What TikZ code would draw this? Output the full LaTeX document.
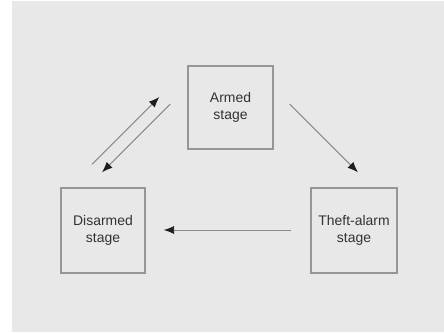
\documentclass[tikz,border=0pt]{standalone}
\usepackage{fontspec}
\setmainfont{Liberation Sans}
\usetikzlibrary{arrows,arrows.meta}
\usetikzlibrary{calc}
\definecolor{hintergrund}{RGB}{232,232,232}
\definecolor{rahmen}{RGB}{150,150,150}
\definecolor{pfeil}{RGB}{140,140,140}
\definecolor{spitze}{RGB}{30,30,30}
\definecolor{schrift}{RGB}{50,50,50}

\begin{document}
\begin{tikzpicture}[x=0.03cm, y=-0.03cm,
	stage/.style={draw=rahmen, line width=1.1pt, fill=hintergrund, align=center,
		text=schrift, font=\fontsize{11.9}{14.5}\selectfont, inner sep=0pt},
	uebergang/.style={draw=pfeil, line width=0.8pt, -{Latex[length=9pt, width=7pt, color=spitze]}}]
	\useasboundingbox (0,0) rectangle (444,333);
	\fill[white] (0,0) rectangle (444,333);
	\fill[hintergrund] (12,1) rectangle (444,332);
	
	\node[stage, minimum width=85*0.03cm, minimum height=83*0.03cm] (armed) at (230.5,107.5) {Armed\\stage};
	\node[stage, minimum width=84*0.03cm, minimum height=85*0.03cm] (disarmed) at (103,230.5) {Disarmed\\stage};
	\node[stage, minimum width=86*0.03cm, minimum height=85*0.03cm] (theft) at (354,230.5) {Theft-alarm\\stage};
	
	\draw[uebergang] ($(disarmed.north)+(-11,-23)$) -- ($(armed.west)+(-28,-10.5)$);
	\draw[uebergang] ($(armed.west)+(-17,-3.5)$) -- ($(disarmed.north)+(-1,-15)$);
	\draw[uebergang] ($(armed.east)+(16,-3.5)$) -- ($(theft.north)+(4,-15)$);
	\draw[uebergang] ($(theft.west)+(-19,-0.5)$) -- ($(disarmed.east)+(18,-0.5)$);
\end{tikzpicture}
\end{document}
